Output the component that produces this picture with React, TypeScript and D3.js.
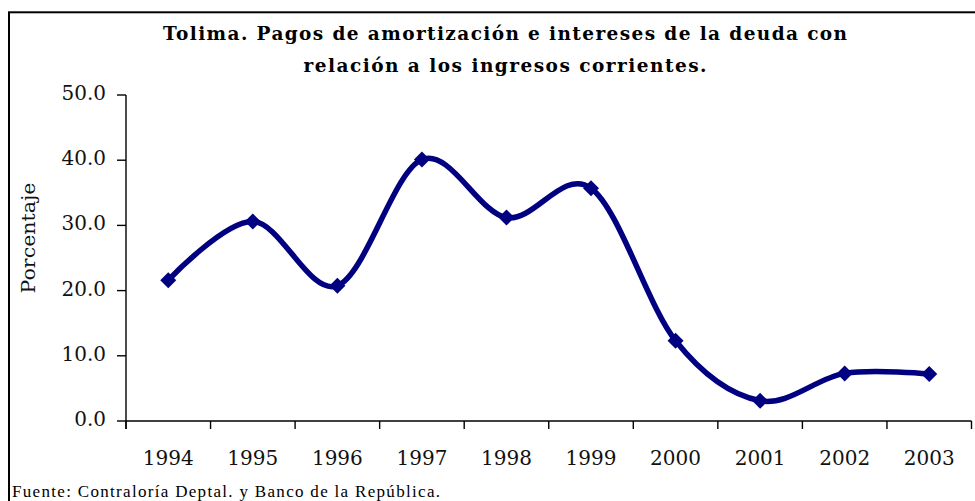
import React from "react";
import * as d3 from "d3";

const years = ["1994", "1995", "1996", "1997", "1998", "1999", "2000", "2001", "2002", "2003"];
const values = [21.6, 30.6, 20.75, 40.1, 31.2, 35.7, 12.3, 3.1, 7.3, 7.2];
const yTicks = [0, 10, 20, 30, 40, 50];
const titleLines = [
  "Tolima. Pagos de amortización e intereses de la deuda con",
  "relación a los ingresos corrientes.",
];
const yAxisTitle = "Porcentaje";
const footnote = "Fuente: Contraloría Deptal. y Banco de la República.";

export default function App() {
  const W = 975;
  const H = 501;
  const x = d3.scaleBand<string>().domain(years).range([126, 971.5]);
  const y = d3.scaleLinear().domain([0, 50]).range([421, 95]);
  const line = d3
    .line<number>()
    .x((_, i) => (x(years[i]) as number) + x.bandwidth() / 2)
    .y((d) => y(d))
    .curve(d3.curveCardinal.tension(0));
  const bounds = years.map((_, i) => 126 + i * x.bandwidth()).concat([971.5]);
  const serif = "'DejaVu Serif', serif";
  const titleLens = [684, 403];
  return (
    <svg
      width={W}
      height={H}
      style={{ position: "absolute", left: 0, top: 0, background: "#fff" }}
    >
      <rect x={0} y={0} width={W} height={H} fill="#fff" />
      {/* frame */}
      <rect x={9} y={12.3} width={W + 20} height={H + 20} fill="none" stroke="#000" strokeWidth={2} />
      {/* title */}
      {titleLines.map((t, i) => (
        <text
          key={i}
          x={505}
          y={40 + i * 32}
          textAnchor="middle"
          fontFamily={serif}
          fontWeight="bold"
          fontSize={18.5}
          textLength={titleLens[i]}
          lengthAdjust="spacing"
          fill="#000"
        >
          {t}
        </text>
      ))}
      {/* y axis */}
      <line x1={126} x2={126} y1={95} y2={429} stroke="#000" strokeWidth={1.4} />
      {yTicks.map((t) => (
        <g key={t}>
          <line x1={117} x2={126} y1={y(t)} y2={y(t)} stroke="#000" strokeWidth={1.4} />
          <text
            x={106}
            y={y(t) + 5}
            textAnchor="end"
            fontFamily={serif}
            fontSize={20}
            fill="#111"
          >
            {t.toFixed(1)}
          </text>
        </g>
      ))}
      {/* x axis */}
      <line x1={126} x2={971.5} y1={421} y2={421} stroke="#000" strokeWidth={1.4} />
      {bounds.map((b, i) => (
        <line key={i} x1={b} x2={b} y1={421} y2={429} stroke="#000" strokeWidth={1.4} />
      ))}
      {years.map((yr) => (
        <text
          key={yr}
          x={(x(yr) as number) + x.bandwidth() / 2}
          y={465}
          textAnchor="middle"
          fontFamily={serif}
          fontSize={20}
          fill="#111"
        >
          {yr}
        </text>
      ))}
      {/* y axis title */}
      <text
        transform="translate(35,238) rotate(-90)"
        textAnchor="middle"
        fontFamily={serif}
        fontSize={19}
        textLength={111}
        lengthAdjust="spacingAndGlyphs"
        fill="#111"
      >
        {yAxisTitle}
      </text>
      {/* series */}
      <path d={line(values) || ""} fill="none" stroke="#000080" strokeWidth={5.5} strokeLinejoin="round" />
      {values.map((v, i) => {
        const cx = (x(years[i]) as number) + x.bandwidth() / 2;
        const cy = y(v);
        const r = 8;
        return (
          <path
            key={i}
            d={`M${cx},${cy - r}L${cx + r},${cy}L${cx},${cy + r}L${cx - r},${cy}Z`}
            fill="#000080"
          />
        );
      })}
      {/* footnote */}
      <text
        x={12}
        y={497}
        fontFamily="'Liberation Serif', serif"
        fontSize={17}
        textLength={428}
        lengthAdjust="spacing"
        fill="#000"
      >
        {footnote}
      </text>
    </svg>
  );
}
